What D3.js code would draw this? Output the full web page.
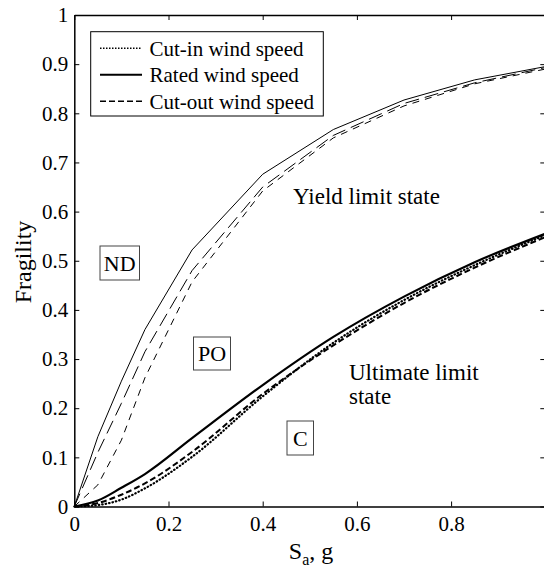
<!DOCTYPE html>
<html>
<head>
<meta charset="utf-8">
<script src="https://cdn.jsdelivr.net/npm/d3@7"></script>
<style>
body { margin: 0; background: #fff; }
text { font-family: "Liberation Serif", "Times New Roman", serif; fill: #000; }
</style>
</head>
<body>
<svg width="544" height="569"></svg>
<script>
// spectral acceleration, g
var sa = [0, 0.05, 0.1, 0.15, 0.25, 0.4, 0.55, 0.7, 0.85, 1.0];

// yield limit state
var yieldCutIn  = [0, 0.11, 0.21, 0.315, 0.48, 0.65, 0.755, 0.82, 0.862, 0.893];
var yieldRated  = [0, 0.142, 0.255, 0.36, 0.522, 0.676, 0.767, 0.827, 0.868, 0.895];
var yieldCutOut = [0, 0.044, 0.135, 0.262, 0.457, 0.642, 0.75, 0.815, 0.86, 0.89];

// ultimate limit state
var ultCutIn  = [0, 0.003, 0.014, 0.037, 0.101, 0.224, 0.333, 0.42, 0.491, 0.552];
var ultRated  = [0, 0.012, 0.038, 0.066, 0.139, 0.247, 0.345, 0.427, 0.497, 0.555];
var ultCutOut = [0, 0.007, 0.024, 0.047, 0.111, 0.229, 0.328, 0.414, 0.486, 0.548];

var xTicks = [0, 0.2, 0.4, 0.6, 0.8, 1];
var yTicks = [0, 0.1, 0.2, 0.3, 0.4, 0.5, 0.6, 0.7, 0.8, 0.9, 1];
var legendLabels = ["Cut-in wind speed", "Rated wind speed", "Cut-out wind speed"];

var svg = d3.select("svg");
var plotLeft = 74.3, plotRight = 545.3, plotTop = 15, plotBottom = 506.5;

var x = d3.scaleLinear().domain([0, 1]).range([plotLeft, plotRight]);
var y = d3.scaleLinear().domain([0, 1]).range([plotBottom, plotTop]);

var tickLen = 5;

// axes, MATLAB style box with inward ticks
var g = svg.append("g");

g.append("g")
 .attr("transform", "translate(0," + plotBottom + ")")
 .call(d3.axisBottom(x).tickValues(xTicks).tickSizeInner(-tickLen).tickSizeOuter(0)
   .tickPadding(10).tickFormat(function(d) { return d === 1 ? "" : d; }));

g.append("g")
 .attr("transform", "translate(0," + plotTop + ")")
 .call(d3.axisTop(x).tickValues(xTicks).tickSizeInner(-tickLen).tickSizeOuter(0).tickFormat(""));

g.append("g")
 .attr("transform", "translate(" + plotLeft + ",0)")
 .call(d3.axisLeft(y).tickValues(yTicks).tickSizeInner(-tickLen).tickSizeOuter(0)
   .tickPadding(6).tickFormat(function(d) { return d; }));

g.append("g")
 .attr("transform", "translate(" + plotRight + ",0)")
 .call(d3.axisRight(y).tickValues(yTicks).tickSizeInner(-tickLen).tickSizeOuter(0).tickFormat(""));

g.selectAll(".domain").attr("stroke", "#000").attr("stroke-width", 1.5);
g.selectAll(".tick line").attr("stroke", "#000").attr("stroke-width", 1);
g.selectAll(".tick text")
 .style("font-family", "'Liberation Serif', 'Times New Roman', serif")
 .style("font-size", "21px")
 .attr("fill", "#000");

// curves
var line = d3.line()
 .x(function(d) { return x(d[0]); })
 .y(function(d) { return y(d[1]); });
var smooth = d3.line()
 .curve(d3.curveMonotoneX)
 .x(function(d) { return x(d[0]); })
 .y(function(d) { return y(d[1]); });

function pairs(vals) { return sa.map(function(s, i) { return [s, vals[i]]; }); }

var curves = [
  { v: yieldRated,  gen: line,   w: 1,   dash: null,    cap: "butt" },
  { v: yieldCutIn,  gen: line,   w: 1,   dash: "14,6",  cap: "butt" },
  { v: yieldCutOut, gen: line,   w: 1,   dash: "7,6",   cap: "butt" },
  { v: ultCutIn,    gen: smooth, w: 2.2, dash: "0.5,3", cap: "round" },
  { v: ultCutOut,   gen: smooth, w: 2,   dash: "6,3",   cap: "butt" },
  { v: ultRated,    gen: smooth, w: 2.2, dash: null,    cap: "butt" }
];

svg.selectAll(".curve")
 .data(curves)
 .enter().append("path")
 .attr("class", "curve")
 .attr("d", function(c) { return c.gen(pairs(c.v)); })
 .attr("fill", "none")
 .attr("stroke", "#000")
 .attr("stroke-width", function(c) { return c.w; })
 .attr("stroke-linecap", function(c) { return c.cap; })
 .attr("stroke-dasharray", function(c) { return c.dash; });

// axis titles
svg.append("text")
 .attr("transform", "translate(31,262) rotate(-90)")
 .attr("text-anchor", "middle")
 .attr("font-size", "24px")
 .text("Fragility");

var xl = svg.append("text")
 .attr("x", 311)
 .attr("y", 559)
 .attr("text-anchor", "middle")
 .attr("font-size", "24px");
xl.append("tspan").text("S");
xl.append("tspan").attr("font-size", "16px").attr("dy", 6).text("a");
xl.append("tspan").attr("dy", -6).text(", g");

// region labels
svg.append("text").attr("x", 293).attr("y", 204).attr("font-size", "23px").text("Yield limit state");
svg.append("text").attr("x", 349).attr("y", 380).attr("font-size", "23px").text("Ultimate limit");
svg.append("text").attr("x", 349).attr("y", 404).attr("font-size", "23px").text("state");

var boxes = [
  { t: "ND", x0: 100, y0: 246, x1: 139.5, y1: 280 },
  { t: "PO", x0: 193.5, y0: 337, x1: 230.5, y1: 370 },
  { t: "C",  x0: 287, y0: 421, x1: 313.5, y1: 455 }
];
var bg = svg.selectAll(".lbl").data(boxes).enter().append("g").attr("class", "lbl");
bg.append("rect")
 .attr("x", function(d) { return d.x0; })
 .attr("y", function(d) { return d.y0; })
 .attr("width", function(d) { return d.x1 - d.x0; })
 .attr("height", function(d) { return d.y1 - d.y0; })
 .attr("fill", "#fff")
 .attr("stroke", "#444")
 .attr("stroke-width", 1);
bg.append("text")
 .attr("x", function(d) { return (d.x0 + d.x1) / 2; })
 .attr("y", function(d) { return (d.y0 + d.y1) / 2 + 7.5; })
 .attr("text-anchor", "middle")
 .attr("font-size", "22px")
 .text(function(d) { return d.t; });

// legend
var lg = svg.append("g");
lg.append("rect")
 .attr("x", 90.7).attr("y", 31.7)
 .attr("width", 232.6).attr("height", 84.3)
 .attr("fill", "#fff").attr("stroke", "#000").attr("stroke-width", 1);
var legendStyles = [
  { w: 1.5, dash: "1.5,1.5" },
  { w: 2,   dash: null },
  { w: 1.5, dash: "6,3" }
];
legendLabels.forEach(function(lab, i) {
  var cy = 48.3 + i * 26.5;
  lg.append("line")
   .attr("x1", 100).attr("x2", 142)
   .attr("y1", cy).attr("y2", cy)
   .attr("stroke", "#000")
   .attr("stroke-width", legendStyles[i].w)
   .attr("stroke-dasharray", legendStyles[i].dash);
  lg.append("text")
   .attr("x", 149.5).attr("y", cy + 7.5)
   .attr("font-size", "21px")
   .text(lab);
});
</script>
</body>
</html>
